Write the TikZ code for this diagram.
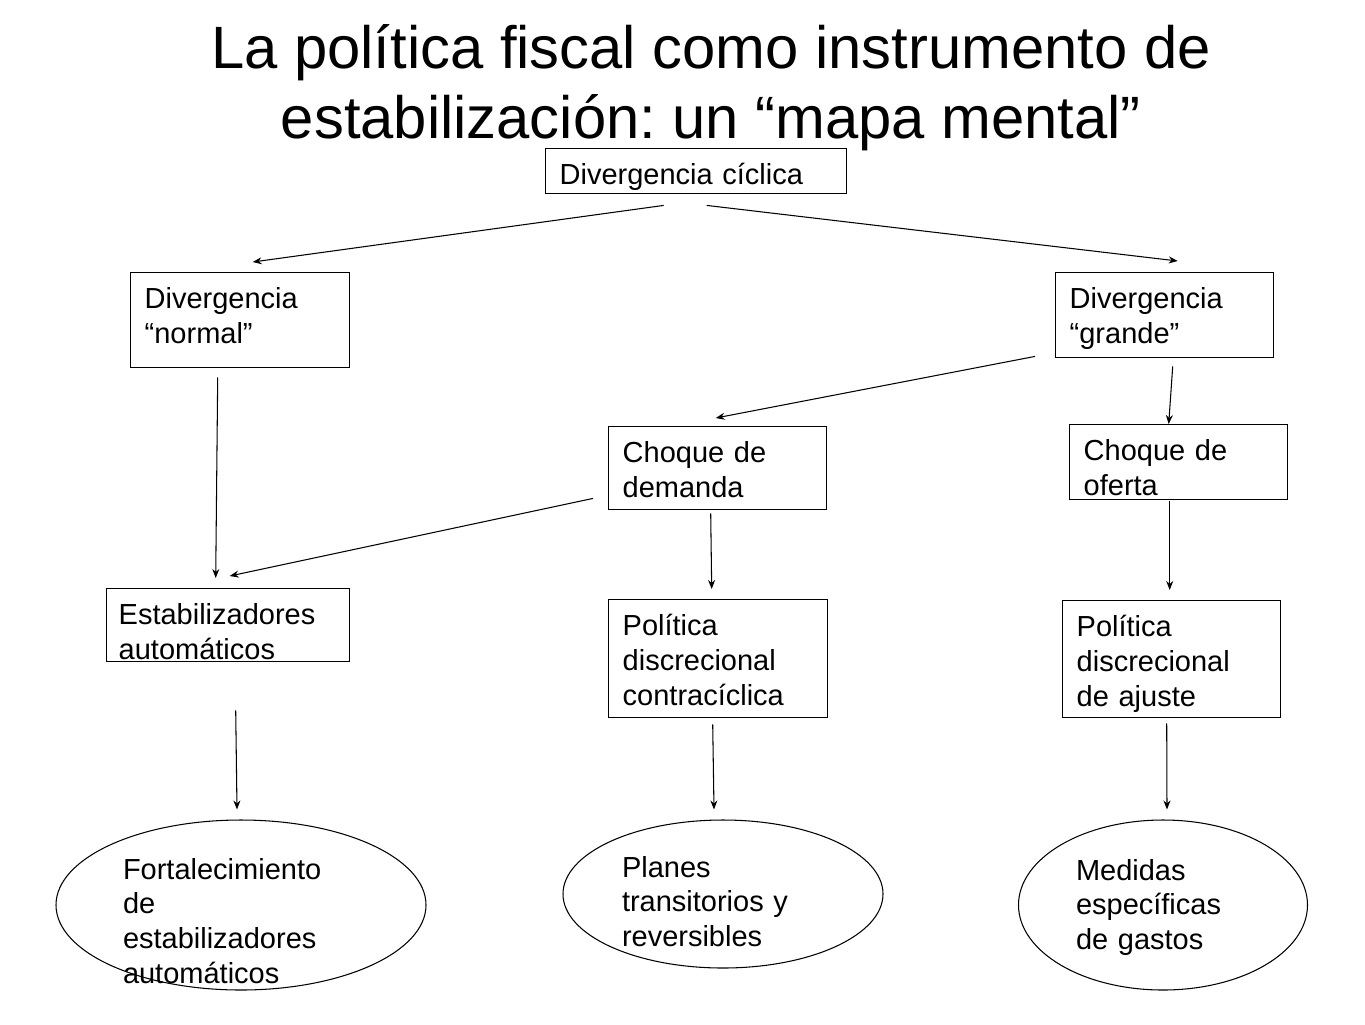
\documentclass[tikz,border=0pt]{standalone}
\usepackage{fontspec}
\setmainfont{Liberation Sans}
\usetikzlibrary{arrows.meta,shapes.geometric}
\frenchspacing

\begin{document}
\begin{tikzpicture}[
    box/.style={draw, line width=0.8pt, anchor=north west, align=left, inner xsep=0.28cm, inner ysep=0pt, text height=0.71cm, font=\fontsize{16.5pt}{19.9pt}\selectfont},
    oval/.style={draw, ellipse, line width=0.6pt, align=left, inner sep=0pt, font=\fontsize{16.5pt}{19.9pt}\selectfont},
    arr/.style={line width=0.6pt, -{Stealth[length=1.8mm, width=1.4mm]}}
]
    \useasboundingbox (0, 0) rectangle (27.3, -20.48);

    \node[font=\fontsize{34pt}{39.8pt}\selectfont, align=center, anchor=base] (title) at (14.22, -2.76) {La política fiscal como instrumento de\\estabilización: un “mapa mental”};

    \node[box, minimum width=6.02cm, text width=5.46cm, text depth=0.19cm] (cic) at (10.9, -2.96) {Divergencia cíclica};
    \node[box, text width=3.82cm, text depth=1.19cm] (normal) at (2.6, -5.44) {Divergencia\\“normal”};
    \node[box, text width=3.80cm, text depth=0.99cm] (grande) at (21.1, -5.44) {Divergencia\\“grande”};
    \node[box, text width=3.80cm, text depth=0.95cm] (demanda) at (12.16, -8.52) {Choque de\\demanda};
    \node[box, text width=3.80cm, text depth=0.79cm] (oferta) at (21.38, -8.48) {Choque de\\oferta};
    \node[box, inner xsep=0.24cm, text width=4.38cm, text depth=0.75cm] (estab) at (2.12, -11.76) {Estabilizadores\\automáticos};
    \node[box, text width=3.82cm, text depth=1.65cm] (contra) at (12.16, -11.98) {Política\\discrecional\\contracíclica};
    \node[box, text width=3.80cm, text depth=1.63cm] (ajuste) at (21.24, -12.0) {Política\\discrecional\\de ajuste};

    \node[oval, minimum width=7.4cm, minimum height=3.4cm, text width=4.72cm, text height=0.66cm, text depth=1.70cm] (fort) at (4.82, -18.1) {Fortalecimiento\\de\\estabilizadores\\automáticos};
    \node[oval, minimum width=6.4cm, minimum height=2.96cm, text width=4.04cm, text height=0.66cm, text depth=1.34cm] (planes) at (14.46, -17.88) {Planes\\transitorios y\\reversibles};
    \node[oval, minimum width=5.78cm, minimum height=3.4cm, text width=3.48cm, text height=0.68cm, text depth=1.68cm] (medidas) at (23.26, -18.1) {Medidas\\específicas\\de gastos};

    \draw[arr] ([xshift=-0.65cm, yshift=-0.22cm]cic.south) -- ([xshift=0.25cm, yshift=0.2cm]normal.north);
    \draw[arr] ([xshift=0.21cm, yshift=-0.22cm]cic.south) -- ([xshift=0.26cm, yshift=0.22cm]grande.north);
    \draw[arr] ([xshift=-0.45cm, yshift=-0.18cm]normal.south) -- ([xshift=-0.25cm, yshift=0.2cm]estab.north);
    \draw[arr] ([xshift=-0.4cm, yshift=0.04cm]grande.south west) -- ([xshift=-0.04cm, yshift=0.16cm]demanda.north);
    \draw[arr] ([xshift=0.16cm, yshift=-0.16cm]grande.south) -- ([xshift=-0.2cm]oferta.north);
    \draw[arr] ([xshift=-0.3cm, yshift=0.24cm]demanda.south west) -- ([xshift=0.03cm, yshift=0.24cm]estab.north);
    \draw[arr] ([xshift=-0.14cm, yshift=-0.06cm]demanda.south) -- ([xshift=-0.13cm, yshift=0.2cm]contra.north);
    \draw[arr] ([xshift=-0.18cm, yshift=-0.02cm]oferta.south) -- ([xshift=-0.04cm, yshift=0.2cm]ajuste.north);
    \draw[arr] ([xshift=0.15cm, yshift=-0.96cm]estab.south) -- ([xshift=-0.08cm, yshift=0.2cm]fort.north);
    \draw[arr] ([xshift=-0.11cm, yshift=-0.12cm]contra.south) -- ([xshift=-0.18cm, yshift=0.2cm]planes.north);
    \draw[arr] ([xshift=-0.1cm, yshift=-0.1cm]ajuste.south) -- ([xshift=0.08cm, yshift=0.2cm]medidas.north);
\end{tikzpicture}
\end{document}
